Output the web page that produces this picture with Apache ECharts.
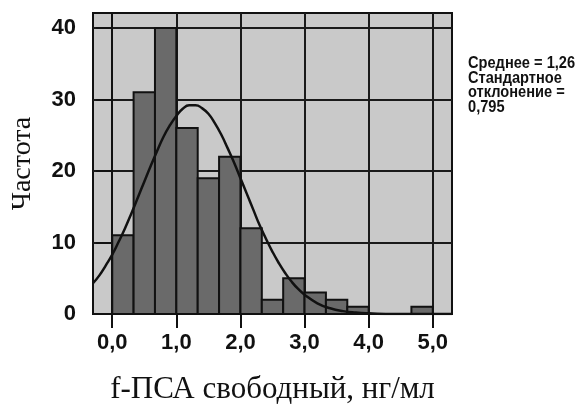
<!DOCTYPE html>
<html>
<head>
<meta charset="utf-8">
<script src="https://cdn.jsdelivr.net/npm/echarts@6/dist/echarts.min.js"></script>
<style>html,body{margin:0;padding:0;background:#fff;}#c{width:582px;height:405px;}</style>
</head>
<body>
<div id="c"></div>
<script>
// Histogram bins (bin width 1/3)
const binLow  = [0, 0.3333, 0.6667, 1, 1.3333, 1.6667, 2, 2.3333, 2.6667, 3, 3.3333, 3.6667, 4, 4.3333, 4.6667];
const binHigh = [0.3333, 0.6667, 1, 1.3333, 1.6667, 2, 2.3333, 2.6667, 3, 3.3333, 3.6667, 4, 4.3333, 4.6667, 5];
const counts  = [11, 31, 40, 26, 19, 22, 12, 2, 5, 3, 2, 1, 0, 0, 1];
// Normal curve
const curveX = [-0.3,-0.2,-0.1,0,0.1,0.2,0.3,0.4,0.5,0.6,0.7,0.8,0.9,1,1.1,1.2,1.3,1.4,1.5,1.6,1.7,1.8,1.9,2,2.1,2.2,2.3,2.4,2.5,2.6,2.7,2.8,2.9,3,3.2,3.4,3.6,3.8,4,4.4,5,5.3];
const curveY = [4.3,5.4,6.8,8.3,10.1,12.0,14.1,16.3,18.5,20.7,22.8,24.8,26.4,27.7,28.7,29.2,29.2,28.8,28.0,26.7,25.1,23.2,21.2,19.0,16.8,14.6,12.4,10.5,8.7,7.1,5.7,4.5,3.5,2.7,1.5,0.8,0.4,0.2,0.1,0.0,0.0,0.0];
const xTicks = [0, 1, 2, 3, 4, 5];
const yTicks = [0, 10, 20, 30, 40];
const statLines = ['Среднее = 1,26', 'Стандартное', 'отклонение =', '0,795'];

const chart = echarts.init(document.getElementById('c'), null, {renderer: 'canvas'});
const barData = binLow.map((l, i) => [l, binHigh[i], counts[i]]);
const curveData = curveX.map((x, i) => [x, curveY[i]]);
const gridColor = '#1a1a1a';

chart.setOption({
  animation: false,
  backgroundColor: '#ffffff',
  grid: {left: 93, top: 13, right: 130, bottom: 91, containLabel: false, outerBoundsMode: 'none',
    show: true, backgroundColor: '#c9c9c9', borderColor: '#111', borderWidth: 2},
  xAxis: {
    type: 'value', min: -0.3, max: 5.3,
    name: 'f-ПСА свободный, нг/мл', nameLocation: 'middle', nameGap: 60,
    nameTextStyle: {fontFamily: 'Liberation Serif', fontSize: 31, color: '#111'},
    axisLine: {show: true, onZero: false, lineStyle: {color: '#111', width: 2}},
    axisTick: {show: true, length: 14, customValues: xTicks, lineStyle: {color: '#111', width: 2}},
    axisLabel: {customValues: xTicks, margin: 18, fontFamily: 'Liberation Sans', fontWeight: 'bold', fontSize: 22, color: '#111',
      formatter: v => v.toFixed(1).replace('.', ',')},
    splitLine: {show: true, lineStyle: {color: gridColor, width: 2}}
  },
  yAxis: {
    type: 'value', min: 0, max: 42.1,
    name: 'Частота', nameLocation: 'middle', nameGap: 56,
    nameTextStyle: {fontFamily: 'Liberation Serif', fontSize: 28, color: '#111'},
    axisLine: {show: true, lineStyle: {color: '#111', width: 2}},
    axisTick: {show: true, length: 16, customValues: yTicks, lineStyle: {color: '#111', width: 2}},
    axisLabel: {customValues: yTicks, margin: 17, fontFamily: 'Liberation Sans', fontWeight: 'bold', fontSize: 22, color: '#111'},
    splitLine: {show: true, lineStyle: {color: gridColor, width: 2}}
  },
  series: [
    {
      type: 'custom', data: barData, z: 3,
      renderItem: function (params, api) {
        const y = api.value(2);
        if (!y) return null;
        const p0 = api.coord([api.value(0), y]);
        const p1 = api.coord([api.value(1), 0]);
        return {type: 'rect', shape: {x: p0[0], y: p0[1], width: p1[0] - p0[0], height: p1[1] - p0[1]},
          style: {fill: '#6a6a6a', stroke: '#111', lineWidth: 2}};
      }
    },
    {
      type: 'line', data: curveData, smooth: true, showSymbol: false, z: 5,
      lineStyle: {color: '#111', width: 2.5}
    }
  ],
  graphic: statLines.map((t, i) => ({
    type: 'text', x: 468, y: 55 + i * 14.5, scaleX: 0.86, scaleY: 1, originX: 0, originY: 0, z: 10,
    style: {text: t, fontSize: 17, fontWeight: 'bold', fontFamily: 'Liberation Sans', fill: '#111', verticalAlign: 'top'}
  }))
});
</script>
</body>
</html>
